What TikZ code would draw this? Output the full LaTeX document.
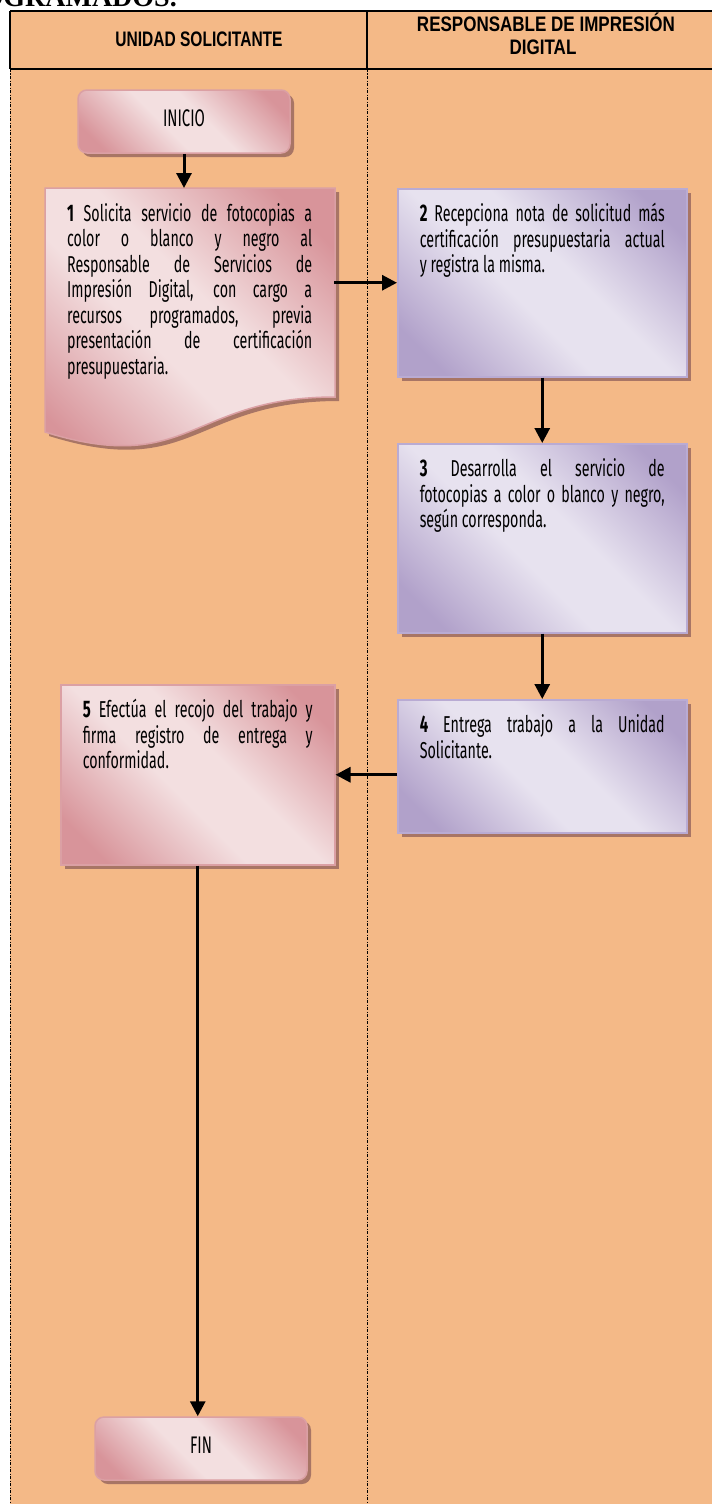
\documentclass[tikz,border=0pt]{standalone}
\usepackage{fontspec}
\setmainfont{Liberation Sans}
\newfontfamily\bodyfont[FakeStretch=0.62]{Fira Sans}
\newfontfamily\headfont{Liberation Sans}
\newfontfamily\titlefont{Liberation Serif}
\usetikzlibrary{arrows.meta,shadows}

\definecolor{bgorange}{HTML}{F4B987}
\definecolor{pinkdark}{HTML}{D8949A}
\definecolor{pinklight}{HTML}{F3DFE0}
\definecolor{pinkedge}{HTML}{DBA0A4}
\definecolor{lilacdark}{HTML}{B1A1CA}
\definecolor{lilaclight}{HTML}{E7E2EF}
\definecolor{lilacedge}{HTML}{B9ABD3}
\definecolor{shadowbrown}{HTML}{A87565}

% diagonal light band between two darker corners
\pgfdeclarehorizontalshading{pinkband}{100bp}{color(0bp)=(pinkdark); color(22bp)=(pinkdark); color(44bp)=(pinklight); color(56bp)=(pinklight); color(78bp)=(pinkdark); color(100bp)=(pinkdark)}
\pgfdeclarehorizontalshading{lilacband}{100bp}{color(0bp)=(lilacdark); color(22bp)=(lilacdark); color(44bp)=(lilaclight); color(56bp)=(lilaclight); color(78bp)=(lilacdark); color(100bp)=(lilacdark)}

% step text: fixed-height top-aligned block, first baseline 33pt below the top
\newcommand{\steptext}[3]{\parbox[c][#1][t]{#2}{\bodyfont\fontsize{23}{25.5}\selectfont #3}}
\newcommand{\jline}[2]{\makebox[#1][s]{#2}}
\newcommand{\firstrule}{\rule{0pt}{33pt}}
\newcommand{\stepno}[1]{{\bfseries\fontsize{24}{25.5}\selectfont #1}}

\tikzset{
  boxshadow/.style={drop shadow={shadow xshift=4pt, shadow yshift=-4pt, fill=shadowbrown, opacity=1}},
  stepbox/.style={rectangle, anchor=north west, inner xsep=22pt, inner ysep=0pt, align=left},
  lilacbox/.style={stepbox, draw=lilacedge, line width=1.5pt, shading=lilacband, shading angle=45, boxshadow},
  pinkbox/.style={stepbox, draw=pinkedge, line width=1.5pt, shading=pinkband, shading angle=45, boxshadow},
  terminal/.style={rectangle, rounded corners=9pt, minimum width=212pt, minimum height=63pt,
    draw=pinkedge, line width=1.5pt, shading=pinkband, shading angle=45, boxshadow,
    font=\bodyfont\fontsize{24}{26}\selectfont},
  flow/.style={line width=3pt, -{Triangle[length=15pt,width=15pt]}},
  lane/.style={line width=0.8pt, dash pattern=on 3pt off 1.5pt on 1pt off 1.5pt},
  rule/.style={line width=1.5pt},
  headtext/.style={anchor=base, inner sep=0pt, font=\headfont\bfseries\fontsize{21}{23}\selectfont},
}

\begin{document}
\begin{tikzpicture}[x=1pt,y=-1pt]
\useasboundingbox (0,0) rectangle (712,1504);

% table body
\fill[bgorange] (10,11) rectangle (712,1504);

% end of the section title above the table
\begin{scope}
  \clip (0,0) rectangle (712,8.5);
  \node[anchor=base east, inner sep=0pt, font=\titlefont\bfseries\fontsize{28}{28}\selectfont] (title) at (177,6.5) {PROGRAMADOS.};
\end{scope}

% header row
\draw[rule] (10,11) -- (712,11);
\draw[rule] (10,69) -- (712,69);
\draw[rule] (10,11) -- (10,69);
\draw[rule] (367,11) -- (367,69);
\node[headtext] (hdrA) at (199,47) {\scalebox{0.74}[1]{UNIDAD SOLICITANTE}};
\node[headtext] (hdrB) at (546,32) {\scalebox{0.81}[1]{RESPONSABLE DE IMPRESIÓN}};
\node[headtext] (hdrC) at (543,55) {\scalebox{0.81}[1]{DIGITAL}};

% swimlane borders
\draw[lane] (10,69) -- (10,1504);
\draw[lane] (367,69) -- (367,1504);

% start
\node[terminal] (inicio) at (184,121.5) {\raisebox{7pt}{INICIO}};

% step 1: document shape with wavy bottom
\path[draw=pinkedge, line width=1.5pt, shading=pinkband, shading angle=45, boxshadow]
  (45,188) -- (335,188) -- (335,397) .. controls (190,397) and (190,477) .. (45,432) -- cycle;
\node[stepbox] (box1) at (45,188) {\steptext{209pt}{245pt}{%
  \firstrule\jline{245pt}{\stepno{1} Solicita servicio de fotocopias a}\\
  \jline{245pt}{color o blanco y negro al}\\
  \jline{245pt}{Responsable de Servicios de}\\
  \jline{245pt}{Impresión Digital, con cargo a}\\
  \jline{245pt}{recursos programados, previa}\\
  \jline{245pt}{presentación de certificación}\\
  presupuestaria.}};

% step 2
\node[lilacbox] (box2) at (397,188) {\steptext{188pt}{245pt}{%
  \firstrule\jline{245pt}{\stepno{2} Recepciona nota de solicitud más}\\
  \jline{245pt}{certificación presupuestaria actual}\\
  y registra la misma.}};

% step 3
\node[lilacbox] (box3) at (397,443) {\steptext{189pt}{245pt}{%
  \firstrule\jline{245pt}{\stepno{3} Desarrolla el servicio de}\\
  \jline{245pt}{fotocopias a color o blanco y negro,}\\
  según corresponda.}};

% step 4
\node[lilacbox] (box4) at (397,699) {\steptext{133pt}{245pt}{%
  \firstrule\jline{245pt}{\stepno{4} Entrega trabajo a la Unidad}\\
  Solicitante.}};

% step 5
\node[pinkbox] (box5) at (60,684) {\steptext{180pt}{230pt}{%
  \firstrule\jline{230pt}{\stepno{5} Efectúa el recojo del trabajo y}\\
  \jline{230pt}{firma registro de entrega y}\\
  conformidad.}};

% end
\node[terminal] (fin) at (201,1448.5) {\raisebox{7pt}{FIN}};

% connectors
\draw[flow] (inicio.south) -- (inicio.south |- box1.north);
\draw[flow] (box1.east |- box2.west) -- (box2.west);
\draw[flow] (box2.south) -- (box3.north);
\draw[flow] (box3.south) -- (box4.north);
\draw[flow] (box4.west |- box5.east) -- (box5.east);
\draw[flow] (box5.south) -- (box5.south |- fin.north);
\end{tikzpicture}
\end{document}
